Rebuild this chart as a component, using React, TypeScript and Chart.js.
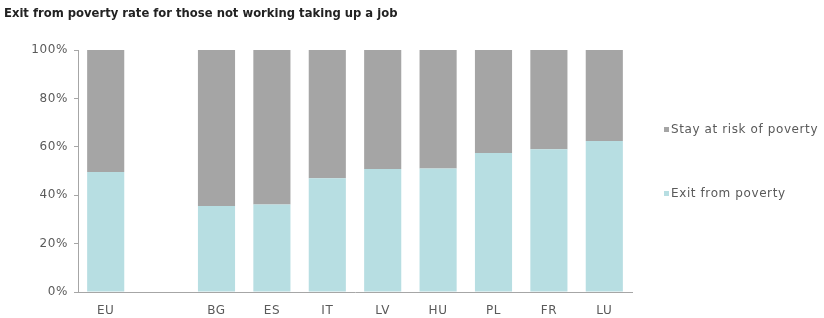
import React, { useEffect, useRef } from "react";
import { Chart, registerables } from "chart.js";

Chart.register(...registerables);

const TITLE = "Exit from poverty rate for those not working taking up a job";
const categories = ["EU", "", "BG", "ES", "IT", "LV", "HU", "PL", "FR", "LU"];
const exitFromPoverty = [49.6, null, 35.5, 36.2, 47, 50.8, 51, 57.4, 59, 62.4];
const stayAtRisk = [50.4, null, 64.5, 63.8, 53, 49.2, 49, 42.6, 41, 37.6];
const yTicks = [0, 20, 40, 60, 80, 100];

const CYAN = "#b7dee2";
const GREY = "#a5a5a5";
const TEXT = "#5a5a5a";
const FONT = "'DejaVu Sans', Verdana, sans-serif";

const spacingPlugin = {
  id: "letterSpacing",
  beforeDraw: (chart: any) => {
    (chart.ctx as any).letterSpacing = "0.6px";
  },
};

export default function App() {
  const ref = useRef<HTMLCanvasElement | null>(null);

  useEffect(() => {
    document.body.style.margin = "0";
    const ctx = ref.current!;
    const chart = new Chart(ctx, {
      type: "bar",
      data: {
        labels: categories,
        datasets: [
          {
            label: "Exit from poverty",
            data: exitFromPoverty as any,
            backgroundColor: CYAN,
            categoryPercentage: 1,
            barPercentage: 0.67,
          },
          {
            label: "Stay at risk of poverty",
            data: stayAtRisk as any,
            backgroundColor: GREY,
            categoryPercentage: 1,
            barPercentage: 0.67,
          },
        ],
      },
      options: {
        animation: false,
        responsive: false,
        maintainAspectRatio: false,
        layout: { padding: { left: 0, right: 192, top: 50, bottom: 0 } },
        plugins: {
          legend: { display: false },
          title: { display: false },
          tooltip: { enabled: false },
        },
        scales: {
          x: {
            stacked: true,
            grid: { display: false, drawTicks: false },
            border: { display: true, color: "#a6a6a6", width: 1 },
            ticks: {
              color: TEXT,
              font: { family: FONT, size: 12 },
              padding: 12,
              maxRotation: 0,
              autoSkip: false,
            },
            afterFit: (s: any) => {
              s.height = 26;
            },
          },
          y: {
            stacked: true,
            min: 0,
            max: 100,
            afterBuildTicks: (s: any) => {
              s.ticks = yTicks.map((v) => ({ value: v }));
            },
            grid: {
              display: true,
              drawOnChartArea: false,
              drawTicks: true,
              tickLength: 4,
              color: "#a6a6a6",
            },
            border: { display: true, color: "#a6a6a6", width: 1 },
            ticks: {
              color: TEXT,
              font: { family: FONT, size: 12 },
              padding: 6,
              callback: (v: any) => v + "%",
            },
            afterFit: (s: any) => {
              s.width = 78;
            },
          },
        },
      },
      plugins: [spacingPlugin],
    });
    return () => chart.destroy();
  }, []);

  return (
    <div style={{ position: "relative", width: 824, height: 318, background: "#fff", fontFamily: FONT }}>
      <div
        style={{
          position: "absolute",
          left: 4,
          top: 5,
          fontSize: 11.6,
          lineHeight: "16px",
          fontWeight: "bold",
          color: "#222",
          whiteSpace: "nowrap",
        }}
      >
        {TITLE}
      </div>
      <canvas ref={ref} width={824} height={318} style={{ display: "block", width: 824, height: 318 }} />
      {[
        { label: "Stay at risk of poverty", color: GREY, top: 121 },
        { label: "Exit from poverty", color: CYAN, top: 185 },
      ].map((it) => (
        <div
          key={it.label}
          style={{
            position: "absolute",
            left: 664,
            top: it.top,
            fontSize: 12,
            letterSpacing: "0.6px",
            lineHeight: "16px",
            height: 16,
            color: TEXT,
            whiteSpace: "nowrap",
            display: "flex",
            alignItems: "center",
          }}
        >
          <span style={{ display: "inline-block", width: 5, height: 5, background: it.color, marginRight: 2 }} />
          {it.label}
        </div>
      ))}
    </div>
  );
}
